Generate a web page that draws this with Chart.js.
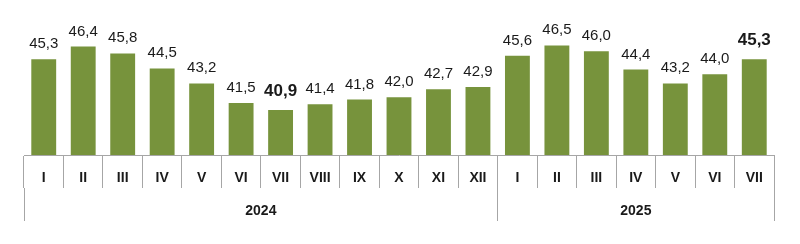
<!DOCTYPE html>
<html lang="en">
<head>
  <meta charset="UTF-8">
  <title>Monthly values 2024-2025</title>
  <script src="https://cdn.jsdelivr.net/npm/chart.js"></script>
  <style>
    html, body { margin: 0; padding: 0; background: #fff; }
    #wrap { width: 800px; height: 244px; }
  </style>
</head>
<body>
  <div id="wrap"><canvas id="chart"></canvas></div>

  <script>
    // data
    const months = ["I", "II", "III", "IV", "V", "VI", "VII", "VIII", "IX", "X", "XI", "XII",
                    "I", "II", "III", "IV", "V", "VI", "VII"];
    const values = [45.3, 46.4, 45.8, 44.5, 43.2, 41.5, 40.9, 41.4, 41.8, 42.0, 42.7, 42.9,
                    45.6, 46.5, 46.0, 44.4, 43.2, 44.0, 45.3];
    const years = ["2024", "2025"];
    const monthsPerYear = [12, 7];
    const boldIdx = [6, 18];

    // year group boundaries and label centres on a 0..n scale
    const bounds = [0];
    monthsPerYear.forEach(n => bounds.push(bounds[bounds.length - 1] + n));
    const centers = years.map((y, i) => (bounds[i] + bounds[i + 1]) / 2);

    const FONT = "'Liberation Sans', Arial, sans-serif";
    const fmt = v => v.toFixed(1).replace(".", ",");

    // value labels above bars
    const valueLabels = {
      id: "valueLabels",
      afterDatasetsDraw(chart) {
        const ctx = chart.ctx;
        const meta = chart.getDatasetMeta(0);
        ctx.save();
        ctx.textAlign = "center";
        ctx.textBaseline = "alphabetic";
        ctx.fillStyle = "#1a1a1a";
        meta.data.forEach((bar, i) => {
          const bold = boldIdx.includes(i);
          ctx.font = (bold ? "bold 17px " : "15px ") + FONT;
          ctx.fillText(fmt(values[i]), bar.x, bar.y - (bold ? 14 : 11));
        });
        ctx.restore();
      }
    };

    new Chart(document.getElementById("chart"), {
      type: "bar",
      data: {
        labels: months,
        datasets: [{
          data: values,
          backgroundColor: "#77933c",
          borderWidth: 0,
          categoryPercentage: 1,
          barPercentage: 0.63
        }]
      },
      options: {
        responsive: true,
        maintainAspectRatio: false,
        animation: false,
        layout: { padding: { left: 24, right: 26, top: 5, bottom: 23 } },
        plugins: { legend: { display: false }, tooltip: { enabled: false } },
        scales: {
          y: { display: false, min: 37, max: 50 },
          x: {
            position: "bottom",
            afterFit(scale) { scale.height = 33; },
            border: { display: true, color: "#a6a6a6", width: 1 },
            grid: {
              drawOnChartArea: false,
              drawTicks: true,
              tickLength: 33,
              color: "#a6a6a6",
              offset: true
            },
            ticks: {
              padding: -18,
              color: "#1a1a1a",
              font: { family: FONT, size: 14, weight: "bold" },
              maxRotation: 0,
              autoSkip: false
            }
          },
          x2: {
            type: "linear",
            position: "bottom",
            min: 0,
            max: bounds[bounds.length - 1],
            offset: false,
            afterFit(scale) { scale.height = 33; },
            border: { display: false },
            afterBuildTicks(scale) {
              scale.ticks = bounds.concat(centers).sort((a, b) => a - b).map(v => ({ value: v }));
            },
            grid: {
              offset: false,
              drawOnChartArea: false,
              drawTicks: true,
              tickLength: 33,
              color: c => (c.tick && bounds.includes(c.tick.value)) ? "#a6a6a6" : "rgba(0,0,0,0)"
            },
            ticks: {
              padding: -18,
              color: "#1a1a1a",
              font: { family: FONT, size: 14, weight: "bold" },
              maxRotation: 0,
              autoSkip: false,
              callback: v => {
                const k = centers.indexOf(v);
                return k >= 0 ? years[k] : "";
              }
            }
          }
        }
      },
      plugins: [valueLabels]
    });
  </script>
</body>
</html>
